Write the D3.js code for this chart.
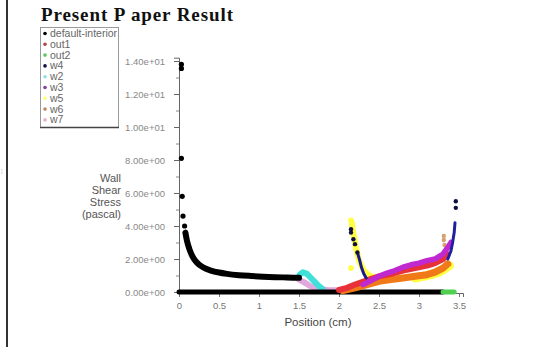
<!DOCTYPE html>
<html>
<head>
<meta charset="utf-8">
<script src="https://cdn.jsdelivr.net/npm/d3@7/dist/d3.min.js"></script>
<style>
  html, body { margin: 0; padding: 0; background: #fff; }
  svg { display: block; }
</style>
</head>
<body>
<svg id="chart" width="542" height="347"></svg>
<script>
// Wall shear stress (pascal) along position (cm), one array per zone.
const positionTicks = [0, 0.5, 1, 1.5, 2, 2.5, 3, 3.5];
const stressTicks = [0, 2, 4, 6, 8, 10, 12, 14];
const stressMinorTicks = [1, 3, 5, 7, 9, 11, 13];

const legendNames = ["default-interior", "out1", "out2", "w4", "w2", "w3", "w5", "w6", "w7"];
const legendColors = ["#000000", "#b04848", "#58c858", "#101050", "#8ee0e0", "#8a3aa8", "#ffff70", "#c08a60", "#e8b0d0"];

// default-interior: isolated values at the inlet, then the decaying trace
const defaultInteriorDots = [[0.03, 13.8], [0.03, 13.55], [0.03, 8.1], [0.04, 5.8], [0.05, 4.6], [0.07, 4.0]];
const defaultInterior = [[0.08, 3.6], [0.1, 3.1], [0.13, 2.6], [0.17, 2.15], [0.22, 1.8], [0.3, 1.5], [0.4, 1.3],
  [0.5, 1.18], [0.6, 1.1], [0.75, 1.02], [0.9, 0.97], [1.05, 0.93], [1.2, 0.9], [1.35, 0.88], [1.5, 0.86]];
const defaultInteriorZero = [[0, 0], [3.3, 0]];
const out2 = [[3.3, 0], [3.44, 0]];
const w2 = [[1.51, 1.05], [1.55, 1.2], [1.6, 1.1], [1.65, 0.85], [1.7, 0.6], [1.75, 0.35], [1.79, 0.2]];
const w7 = [[1.5, 0.75], [1.56, 0.6], [1.62, 0.42], [1.68, 0.27], [1.75, 0.17], [1.85, 0.12], [1.95, 0.1], [2.05, 0.12], [2.12, 0.18]];
const w5 = [[2.16, 4.2], [2.17, 3.8], [2.19, 3.3], [2.21, 2.7], [2.25, 1.9], [2.31, 1.3], [2.38, 1.0], [2.45, 0.85], [2.53, 0.8]];
const w5Dots = [[2.15, 4.35], [2.15, 1.45]];
const w5Outlet = [[2.95, 0.85], [3.05, 0.95], [3.15, 1.05], [3.25, 1.2], [3.32, 1.4], [3.38, 1.6]];
const w6 = [[2.05, 0.08], [2.2, 0.25], [2.35, 0.45], [2.5, 0.65], [2.65, 0.75], [2.8, 0.85], [2.95, 0.95], [3.1, 1.05], [3.2, 1.2], [3.3, 1.45], [3.36, 1.7]];
const w6Dots = [[3.31, 3.4], [3.31, 3.15], [3.32, 2.85]];
const out1 = [[2.0, 0.12], [2.1, 0.25], [2.2, 0.45], [2.35, 0.7], [2.5, 0.95], [2.65, 1.1], [2.8, 1.3], [2.95, 1.45], [3.1, 1.6], [3.2, 1.75], [3.3, 2.0], [3.35, 2.3]];
const w3 = [[2.3, 0.45], [2.4, 0.7], [2.5, 0.95], [2.6, 1.15], [2.7, 1.3], [2.8, 1.5], [2.9, 1.65], [3.0, 1.75], [3.1, 1.9], [3.2, 2.0], [3.3, 2.3], [3.36, 2.7], [3.4, 3.0]];
const w4Dots = [[2.15, 3.8], [2.15, 3.6], [2.18, 3.2], [2.2, 2.9], [2.23, 2.4], [3.46, 5.1], [3.46, 5.5]];
const w4 = [[2.23, 2.4], [2.26, 1.9], [2.28, 1.5], [2.31, 1.1], [2.34, 0.85]];
const w4Outlet = [[3.36, 2.0], [3.4, 2.5], [3.42, 3.0], [3.44, 3.6], [3.45, 4.2]];

const svg = d3.select("#chart");
svg.append("rect").attr("width", 542).attr("height", 347).attr("fill", "#fff");

// page rule on the left
svg.append("line").attr("x1", 7).attr("x2", 7).attr("y1", 0).attr("y2", 347)
  .attr("stroke", "#333").attr("stroke-width", 2);
svg.append("text").attr("x", 1).attr("y", 173).attr("font-size", 6)
  .attr("fill", "#aaa").attr("font-family", "Liberation Sans, Arial, sans-serif").text("¦");

const x = d3.scaleLinear().domain([0, 3.55]).range([179, 463]);
const y = d3.scaleLinear().domain([0, 14.2]).range([292, 57.7]);

const axisFont = "Liberation Sans, Arial, sans-serif";

// y axis
const yAxis = svg.append("g").attr("transform", `translate(${x(0)},0)`)
  .call(d3.axisLeft(y).tickValues(stressTicks).tickSize(5).tickPadding(9)
    .tickFormat(d => {
      const [m, e] = d.toExponential(2).split("e");
      return m + "e" + e[0] + e.slice(1).padStart(2, "0");
    }));
yAxis.select(".domain").attr("stroke", "#666");
yAxis.selectAll(".tick line").attr("stroke", "#666");
yAxis.selectAll("text").attr("font-family", axisFont).attr("font-size", 9.5).attr("fill", "#888");
svg.append("g").attr("transform", `translate(${x(0)},0)`)
  .call(d3.axisLeft(y).tickValues(stressMinorTicks).tickSize(3).tickFormat(""))
  .call(g => { g.select(".domain").remove(); g.selectAll("line").attr("stroke", "#888"); });

// x axis
const xAxis = svg.append("g").attr("transform", `translate(0,${y(0) + 1})`)
  .call(d3.axisBottom(x).tickValues(positionTicks).tickSize(4).tickPadding(5)
    .tickFormat(d3.format("")));
xAxis.select(".domain").attr("stroke", "#666");
xAxis.selectAll(".tick line").attr("stroke", "#777");
xAxis.selectAll("text").attr("font-family", axisFont).attr("font-size", 9.5).attr("fill", "#777");

// axis titles
svg.append("text").attr("x", 318).attr("y", 326).attr("text-anchor", "middle")
  .attr("font-family", axisFont).attr("font-size", 11.5).attr("fill", "#444").text("Position (cm)");
const yTitle = svg.append("text").attr("text-anchor", "end")
  .attr("font-family", axisFont).attr("font-size", 11).attr("fill", "#555");
["Wall", "Shear", "Stress", "(pascal)"].forEach((t, i) => {
  yTitle.append("tspan").attr("x", 121).attr("y", 182 + i * 12).text(t);
});

// data marks
const line = d3.line().x(d => x(d[0])).y(d => y(d[1])).curve(d3.curveMonotoneX);
const plot = svg.append("g");
function trace(data, color, width) {
  plot.append("path").datum(data).attr("d", line).attr("fill", "none")
    .attr("stroke", color).attr("stroke-width", width)
    .attr("stroke-linecap", "round").attr("stroke-linejoin", "round");
}
function dots(data, color, r) {
  plot.append("g").selectAll("circle").data(data).join("circle")
    .attr("cx", d => x(d[0])).attr("cy", d => y(d[1])).attr("r", r).attr("fill", color);
}
const straight = d3.line().x(d => x(d[0])).y(d => y(d[1]));
function band(data, color, width) {
  plot.append("path").datum(data).attr("d", straight).attr("fill", "none")
    .attr("stroke", color).attr("stroke-width", width)
    .attr("stroke-linecap", "round").attr("stroke-linejoin", "round");
}

band(w7, "#e0a8dc", 6);
band(w2, "#40e0d8", 6);
band(defaultInteriorZero, "#000", 5);
band(out2, "#50d050", 5);
trace(defaultInterior, "#000", 6);
dots(defaultInteriorDots, "#000", 2.6);
band(w5Outlet, "#ffff40", 9);
band(w5, "#ffff40", 6);
dots(w5Dots, "#ffff40", 2.8);
band(w6, "#f07a18", 7);
dots(w6Dots, "#d8a070", 2.2);
band(out1, "#e83038", 6);
band(w3, "#c028d0", 5.5);
band(w4, "#1a1a90", 3);
dots(w4Dots, "#101040", 2.2);
band(w4Outlet, "#2020a0", 3);

// title
svg.append("text").attr("x", 41).attr("y", 21)
  .attr("font-family", "Liberation Serif, Times New Roman, serif").attr("font-weight", "bold")
  .attr("font-size", 19).attr("letter-spacing", 0.9).attr("fill", "#111").text("Present P aper Result");

// legend
const legend = svg.append("g");
legend.append("clipPath").attr("id", "legclip").append("rect")
  .attr("x", 40).attr("y", 27).attr("width", 78).attr("height", 100);
legend.append("rect").attr("x", 40.5).attr("y", 27.5).attr("width", 78).attr("height", 100)
  .attr("fill", "#fff").attr("stroke", "#999").attr("stroke-width", 1);
legend.append("line").attr("x1", 40).attr("x2", 119).attr("y1", 127.5).attr("y2", 127.5)
  .attr("stroke", "#444").attr("stroke-width", 1.5);
const rows = legend.append("g").attr("clip-path", "url(#legclip)");
legendNames.forEach((n, i) => {
  const cy = 33.5 + i * 10.8;
  rows.append("circle").attr("cx", 45).attr("cy", cy).attr("r", 1.8).attr("fill", legendColors[i]);
  rows.append("text").attr("x", 50).attr("y", cy + 3.4).attr("font-family", axisFont)
    .attr("font-size", 10.5).attr("fill", "#666").text(n);
});
</script>
</body>
</html>
